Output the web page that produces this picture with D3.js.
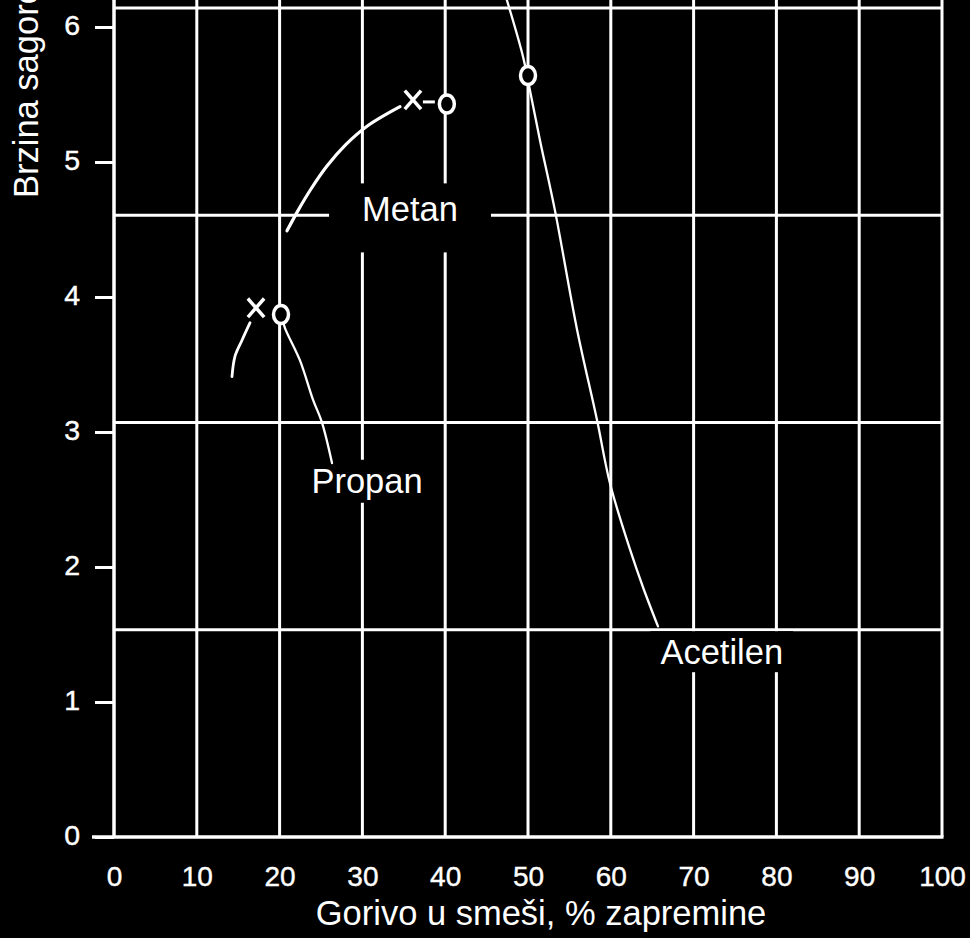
<!DOCTYPE html>
<html>
<head>
<meta charset="utf-8">
<script src="https://cdn.jsdelivr.net/npm/d3@7/dist/d3.min.js"></script>
<style>
  html, body { margin: 0; padding: 0; background: #000; }
  svg { display: block; }
  text { font-family: "Liberation Sans", Arial, Helvetica, sans-serif; fill: #fff; }
</style>
</head>
<body>
<script>
// ---------- data ----------
const xTicks = [0, 10, 20, 30, 40, 50, 60, 70, 80, 90, 100];
const yTicks = [0, 1, 2, 3, 4, 5, 6];
const vGrid = [10, 20, 30, 40, 50, 60, 70, 80, 90, 100];
const hGrid = [1.535, 3.07, 4.605, 6.14];

const xTitle = "Gorivo u smeši, % zapremine";
const yTitle = "Brzina sagorevanja, m/s";

const metanX = [20.89, 22.22, 23.79, 25.72, 28.02, 30.68, 34.54];
const metanY = [4.49, 4.64, 4.80, 4.97, 5.13, 5.27, 5.41];

const propanLeftX = [14.25, 14.61, 15.46, 16.43];
const propanLeftY = [3.41, 3.56, 3.68, 3.81];
const propanRightX = [20.65, 22.46, 24.03, 25.12, 26.33];
const propanRightY = [3.77, 3.53, 3.24, 3.07, 2.77];

const acetilenX = [47.2, 49.4, 50.24, 51.45, 53.26, 55.92, 58.33, 59.9, 62.32, 63.89, 65.7];
const acetilenY = [6.25, 5.78, 5.53, 5.16, 4.64, 3.76, 3.09, 2.62, 2.13, 1.85, 1.56];

const crossX = [36.1, 17.15];
const crossY = [5.46, 3.92];
const circleX = [40.2, 20.17, 50.0];
const circleY = [5.43, 3.87, 5.64];

const labelNames = ["Metan", "Propan", "Acetilen"];
const labelX = [35.75, 30.56, 73.4];
const labelY = [4.56, 2.55, 1.28];

// ---------- layout ----------
const W = 970, H = 938;
const FONT = '"Liberation Sans", Arial, Helvetica, sans-serif';
const svg = d3.select("body").append("svg").attr("width", W).attr("height", H);
svg.append("rect").attr("width", W).attr("height", H).attr("fill", "#000");

const x = d3.scaleLinear().domain([0, 100]).range([114, 942]);
const y = d3.scaleLinear().domain([0, 6]).range([837, 27]);

const white = "#fff";

// grid
const grid = svg.append("g").attr("stroke", white).attr("stroke-width", 3);
grid.selectAll("line.v").data(vGrid).join("line")
  .attr("x1", d => x(d)).attr("x2", d => x(d))
  .attr("y1", 0).attr("y2", y(0));
grid.selectAll("line.h").data(hGrid).join("line")
  .attr("x1", x(0)).attr("x2", x(100))
  .attr("y1", d => y(d)).attr("y2", d => y(d));

// axes lines
svg.append("line").attr("x1", x(0)).attr("x2", x(0)).attr("y1", 0).attr("y2", y(0))
  .attr("stroke", white).attr("stroke-width", 3.5);
svg.append("line").attr("x1", x(0) - 22).attr("x2", x(100) + 1.5).attr("y1", y(0)).attr("y2", y(0))
  .attr("stroke", white).attr("stroke-width", 3.5);

// y axis ticks
const yAxis = d3.axisLeft(y).tickValues(yTicks).tickSize(19).tickPadding(15).tickFormat(d3.format("d"));
const gy = svg.append("g").attr("transform", `translate(${x(0)},0)`).call(yAxis);
gy.select(".domain").remove();
gy.selectAll(".tick line").attr("stroke", white).attr("stroke-width", 3);
gy.selectAll(".tick text").attr("fill", white).attr("stroke", white).attr("stroke-width", 0.4)
  .attr("dy", "0.25em").style("font-size", "28.5px").style("font-family", FONT);

// x axis labels
const xAxis = d3.axisBottom(x).tickValues(xTicks).tickSize(0).tickPadding(29.5).tickFormat(d3.format("d"));
const gx = svg.append("g").attr("transform", `translate(0,${y(0)})`).call(xAxis);
gx.select(".domain").remove();
gx.selectAll(".tick text").attr("fill", white).attr("stroke", white).attr("stroke-width", 0.4)
  .style("font-size", "28px").style("font-family", FONT);

// titles
svg.append("text").attr("x", 541).attr("y", 925).attr("text-anchor", "middle")
  .style("font-size", "34.5px").text(xTitle);
svg.append("text").attr("transform", "translate(38,198) rotate(-90)").attr("text-anchor", "start")
  .style("font-size", "34.5px").text(yTitle);

// labels with black background masks
const pads = [[33, 14, 31], [8, 9, 10], [10, 9, 8]]; // [side, top, bottom]
labelNames.forEach((name, i) => {
  const g = svg.append("g");
  const rect = g.append("rect").attr("fill", "#000");
  const t = g.append("text").attr("x", x(labelX[i])).attr("y", y(labelY[i]))
    .attr("text-anchor", "middle").style("font-size", "34.5px").text(name);
  const bb = t.node().getBBox();
  const capTop = y(labelY[i]) - 24;
  const base = y(labelY[i]);
  rect.attr("x", bb.x - pads[i][0]).attr("width", bb.width + 2 * pads[i][0])
    .attr("y", capTop - pads[i][1]).attr("height", base - capTop + pads[i][1] + pads[i][2]);
});

// curves
const line = d3.line().x(d => x(d[0])).y(d => y(d[1])).curve(d3.curveCatmullRom.alpha(0.5));
const zip = (a, b) => a.map((v, i) => [v, b[i]]);
const curves = svg.append("g").attr("fill", "none").attr("stroke", white).attr("stroke-linecap", "round");
curves.append("path").attr("d", line(zip(metanX, metanY))).attr("stroke-width", 3.2);
curves.append("path").attr("d", line(zip(propanLeftX, propanLeftY))).attr("stroke-width", 2.8);
curves.append("path").attr("d", line(zip([circleX[1]].concat(propanRightX), [circleY[1]].concat(propanRightY)))).attr("stroke-width", 2.3);
curves.append("path").attr("d", line(zip(acetilenX, acetilenY))).attr("stroke-width", 2.3);

// dash between metan x and o
svg.append("line").attr("x1", x(crossX[0]) + 10).attr("x2", x(circleX[0]) - 12)
  .attr("y1", (y(crossY[0]) + y(circleY[0])) / 2).attr("y2", (y(crossY[0]) + y(circleY[0])) / 2)
  .attr("stroke", white).attr("stroke-width", 3);

// cross markers
const cross = svg.append("g").attr("stroke", white).attr("stroke-width", 3.5).attr("stroke-linecap", "square");
crossX.forEach((cx, i) => {
  const px = x(cx), py = y(crossY[i]);
  cross.append("line").attr("x1", px - 7).attr("y1", py - 8).attr("x2", px + 7).attr("y2", py + 8);
  cross.append("line").attr("x1", px - 7).attr("y1", py + 8).attr("x2", px + 7).attr("y2", py - 8);
});

// circle markers
svg.append("g").selectAll("ellipse").data(zip(circleX, circleY)).join("ellipse")
  .attr("cx", d => x(d[0])).attr("cy", d => y(d[1])).attr("rx", 7.5).attr("ry", 9)
  .attr("fill", "#000").attr("stroke", white).attr("stroke-width", 3.5);
</script>
</body>
</html>
